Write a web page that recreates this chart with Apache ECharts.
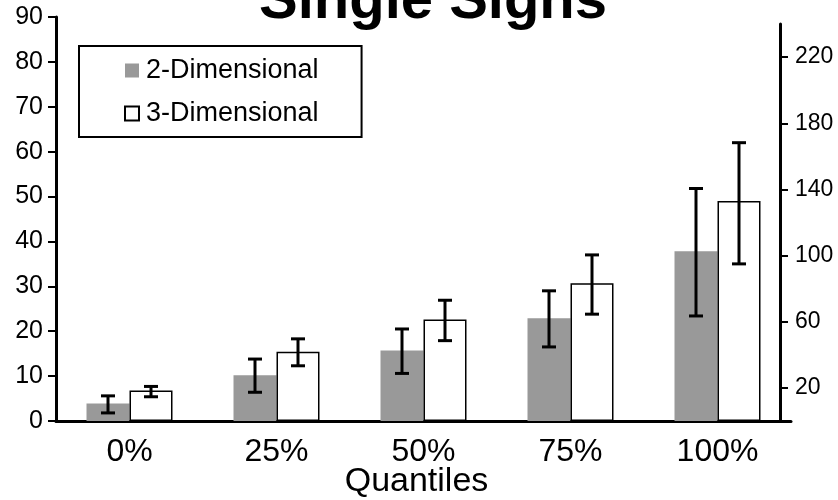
<!DOCTYPE html>
<html>
<head>
<meta charset="utf-8">
<script src="https://cdn.jsdelivr.net/npm/echarts@6/dist/echarts.min.js"></script>
<style>
  html, body { margin: 0; padding: 0; background: #fff; }
  #chart { width: 838px; height: 500px; }
</style>
</head>
<body>
<div id="chart"></div>
<script>
// Quantile groups along the x axis
const quantiles = ['0%', '25%', '50%', '75%', '100%'];

// 2-Dimensional: means and error-bar ends
const twoDMean = [3.9, 10.2, 15.7, 22.9, 37.8];
const twoDLow  = [1.8, 6.4, 10.6, 16.5, 23.4];
const twoDHigh = [5.6, 13.8, 20.5, 29.0, 51.8];

// 3-Dimensional: means and error-bar ends
const threeDMean = [6.8, 15.4, 22.6, 30.7, 49.0];
const threeDLow  = [5.4, 12.3, 17.9, 23.8, 35.0];
const threeDHigh = [7.7, 18.3, 26.9, 37.0, 62.0];

// Secondary (right) scale tick labels
const rightTicks = [20, 60, 100, 140, 180, 220];

const FONT = '"Liberation Sans", Arial, Helvetica, sans-serif';
const BAR_W = 43;

function errorBars(offset) {
  return function (params, api) {
    const idx = api.value(0);
    const top = api.coord([idx, api.value(2)]);
    const bot = api.coord([idx, api.value(1)]);
    const x = top[0] + offset;
    const cap = 7;
    const style = { stroke: '#000', lineWidth: 3 };
    return {
      type: 'group',
      children: [
        { type: 'line', shape: { x1: x, y1: top[1], x2: x, y2: bot[1] }, style },
        { type: 'line', shape: { x1: x - cap, y1: top[1], x2: x + cap, y2: top[1] }, style },
        { type: 'line', shape: { x1: x - cap, y1: bot[1], x2: x + cap, y2: bot[1] }, style }
      ]
    };
  };
}

const chart = echarts.init(document.getElementById('chart'), null, { renderer: 'canvas' });

chart.setOption({
  backgroundColor: '#fff',
  animation: false,
  title: {
    text: 'Single Signs',
    left: 254,
    top: -32,
    textStyle: { fontFamily: FONT, fontWeight: 'bold', fontSize: 58, color: '#000' }
  },
  legend: {
    data: ['2-Dimensional', '3-Dimensional'],
    orient: 'vertical',
    left: 79,
    top: 46,
    padding: [11, 43, 10, 45],
    borderColor: '#000',
    borderWidth: 2,
    itemGap: 16,
    itemWidth: 14,
    itemHeight: 14,
    icon: 'rect',
    textStyle: { fontFamily: FONT, fontSize: 27, color: '#000', padding: [0, 0, 0, 2] }
  },
  grid: [
    { left: 56, right: 47, top: 17, bottom: 79, outerBoundsMode: 'none', containLabel: false },
    { left: 56, right: 58, top: 24, bottom: 79, outerBoundsMode: 'none', containLabel: false }
  ],
  xAxis: [
    {
      type: 'category',
      gridIndex: 0,
      data: quantiles,
      name: 'Quantiles',
      nameLocation: 'middle',
      nameGap: 44,
      nameMoveOverlap: false,
      nameTextStyle: { fontFamily: FONT, fontSize: 34, color: '#000', padding: [0, 14, 0, 0] },
      axisLine: { lineStyle: { color: '#000', width: 3 } },
      axisTick: { show: false },
      axisLabel: { fontFamily: FONT, fontSize: 32, color: '#000', margin: 15 }
    },
    {
      type: 'category',
      gridIndex: 1,
      data: quantiles,
      show: false
    }
  ],
  yAxis: [
    {
      type: 'value',
      gridIndex: 0,
      min: 0,
      max: 90,
      interval: 10,
      splitLine: { show: false },
      axisLine: { show: true, lineStyle: { color: '#000', width: 3 } },
      axisTick: { show: true, length: 8, lineStyle: { color: '#000', width: 2 } },
      axisLabel: { fontFamily: FONT, fontSize: 25, color: '#000', margin: 13 }
    },
    {
      type: 'value',
      gridIndex: 1,
      position: 'right',
      min: 0,
      max: 240,
      splitLine: { show: false },
      axisLine: { show: true, lineStyle: { color: '#000', width: 3 } },
      axisTick: { show: true, length: 8, customValues: rightTicks, lineStyle: { color: '#000', width: 2 } },
      axisLabel: { fontFamily: FONT, fontSize: 23, color: '#000', margin: 15, customValues: rightTicks }
    }
  ],
  series: [
    {
      name: '2-Dimensional',
      type: 'bar',
      xAxisIndex: 0,
      yAxisIndex: 0,
      data: twoDMean,
      barWidth: BAR_W,
      barGap: '0%',
      itemStyle: { color: '#999999' }
    },
    {
      name: '3-Dimensional',
      type: 'bar',
      xAxisIndex: 0,
      yAxisIndex: 0,
      data: threeDMean,
      barWidth: BAR_W,
      barGap: '0%',
      itemStyle: { color: '#ffffff', borderColor: '#000', borderWidth: 1.5 }
    },
    {
      name: '2-D error',
      type: 'custom',
      xAxisIndex: 0,
      yAxisIndex: 0,
      renderItem: errorBars(-BAR_W / 2),
      data: quantiles.map((q, i) => [i, twoDLow[i], twoDHigh[i]]),
      z: 10
    },
    {
      name: '3-D error',
      type: 'custom',
      xAxisIndex: 0,
      yAxisIndex: 0,
      renderItem: errorBars(BAR_W / 2),
      data: quantiles.map((q, i) => [i, threeDLow[i], threeDHigh[i]]),
      z: 10
    }
  ]
});
</script>
</body>
</html>
